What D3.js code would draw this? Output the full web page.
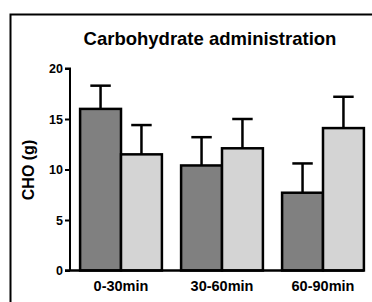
<!DOCTYPE html>
<html>
<head>
<meta charset="utf-8">
<script src="https://cdn.jsdelivr.net/npm/d3@7"></script>
<style>
  html, body { margin: 0; padding: 0; background: #fff; }
  svg { display: block; }
</style>
</head>
<body>
<svg id="chart" width="372" height="302"></svg>
<script>
const categories = ["0-30min", "30-60min", "60-90min"];
const seriesNames = ["A", "B"];
const meansA = [16.0, 10.4, 7.7];
const errA = [2.3, 2.8, 2.9];
const meansB = [11.5, 12.1, 14.1];
const errB = [2.9, 2.9, 3.1];
const yTicks = [0, 5, 10, 15, 20];
const colors = ["#808080", "#d4d4d4"];
const title = "Carbohydrate administration";
const yLabel = "CHO (g)";

const svg = d3.select("#chart");
const font = "'Liberation Sans', Arial, sans-serif";

// Frame
svg.append("rect")
  .attr("x", 10.5).attr("y", 14.5)
  .attr("width", 380).attr("height", 300)
  .attr("fill", "none").attr("stroke", "#000").attr("stroke-width", 2);

const y = d3.scaleLinear().domain([0, 20]).range([270.5, 68.5]);
const x0 = d3.scaleBand().domain(categories).range([70, 374])
  .paddingInner(0.19).paddingOuter(0.1);
const x1 = d3.scaleBand().domain(seriesNames).range([0, x0.bandwidth()]);

const data = categories.map((c, i) => ({
  cat: c,
  vals: [
    { s: "A", v: meansA[i], e: errA[i], color: colors[0] },
    { s: "B", v: meansB[i], e: errB[i], color: colors[1] }
  ]
}));

// Title
svg.append("text")
  .attr("x", 210).attr("y", 44.5)
  .attr("text-anchor", "middle")
  .attr("font-family", font).attr("font-weight", "bold").attr("font-size", 18.5)
  .text(title);

// Y axis label
svg.append("text")
  .attr("transform", "translate(34,170) rotate(-90)")
  .attr("text-anchor", "middle")
  .attr("font-family", font).attr("font-weight", "bold").attr("font-size", 16)
  .text(yLabel);

const groups = svg.append("g").selectAll("g").data(data).join("g")
  .attr("transform", d => `translate(${x0(d.cat)},0)`);

// error bars (upward only)
groups.selectAll("g.err").data(d => d.vals).join("g").attr("class", "err")
  .each(function(d) {
    const g = d3.select(this);
    const cx = x1(d.s) + x1.bandwidth() / 2;
    const hw = x1.bandwidth() / 4;
    g.append("line")
      .attr("x1", cx).attr("x2", cx)
      .attr("y1", y(d.v)).attr("y2", y(d.v + d.e))
      .attr("stroke", "#000").attr("stroke-width", 2.5);
    g.append("line")
      .attr("x1", cx - hw).attr("x2", cx + hw)
      .attr("y1", y(d.v + d.e)).attr("y2", y(d.v + d.e))
      .attr("stroke", "#000").attr("stroke-width", 2.5);
  });

groups.selectAll("rect").data(d => d.vals).join("rect")
  .attr("x", d => x1(d.s))
  .attr("y", d => y(d.v))
  .attr("width", x1.bandwidth())
  .attr("height", d => y(0) - y(d.v))
  .attr("fill", d => d.color)
  .attr("stroke", "#000").attr("stroke-width", 2.5);

// Y axis
const yAxis = svg.append("g").attr("transform", "translate(70,0)")
  .call(d3.axisLeft(y).tickValues(yTicks).tickSize(5).tickPadding(2).tickFormat(d3.format("d")));
yAxis.select(".domain").attr("stroke-width", 2).attr("d", `M-5,${y(20)}H0V${y(0)}`);
yAxis.selectAll(".tick line").attr("stroke-width", 2);
yAxis.selectAll(".tick text")
  .attr("font-family", font).attr("font-weight", "bold").attr("font-size", 12.5).attr("fill", "#000");

// X axis
const lastBandEnd = x0(categories[categories.length - 1]) + x0.bandwidth();
const xAxis = svg.append("g").attr("transform", `translate(0,${y(0)})`)
  .call(d3.axisBottom(x0).tickSize(0).tickPadding(10));
xAxis.select(".domain").attr("stroke-width", 2.5).attr("d", `M65,0H${lastBandEnd}`);
xAxis.selectAll(".tick text")
  .attr("font-family", font).attr("font-weight", "bold").attr("font-size", 14.5).attr("fill", "#000");
</script>
</body>
</html>
